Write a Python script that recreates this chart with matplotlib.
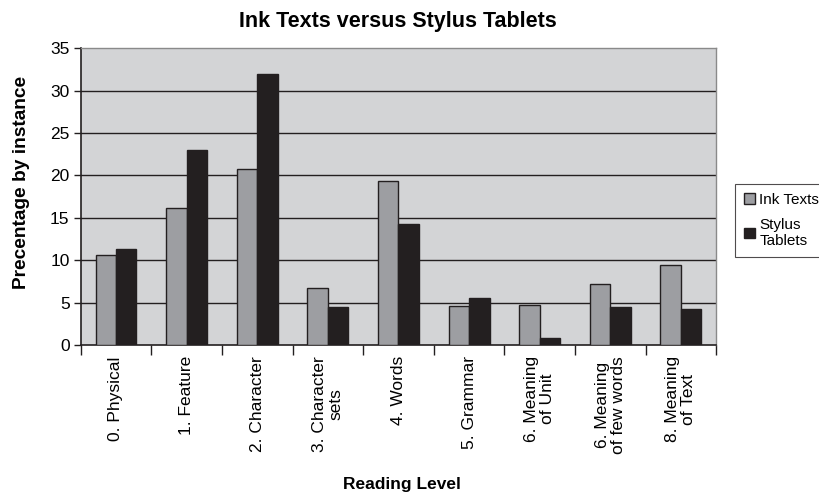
import matplotlib
matplotlib.use("Agg")
import matplotlib.pyplot as plt
import numpy as np

categories = ["0. Physical", "1. Feature", "2. Character", "3. Character\nsets",
              "4. Words", "5. Grammar", "6. Meaning\nof Unit",
              "6. Meaning\nof few words", "8. Meaning\nof Text"]
ink_texts = [10.6, 16.2, 20.8, 6.7, 19.4, 4.6, 4.7, 7.2, 9.4]
stylus_tablets = [11.3, 23.0, 32.0, 4.5, 14.3, 5.6, 0.9, 4.5, 4.3]
series_names = ["Ink Texts", "Stylus\nTablets"]
yticks = [0, 5, 10, 15, 20, 25, 30, 35]

plt.rcParams['font.family'] = ['Liberation Sans', 'DejaVu Sans']

fig = plt.figure(figsize=(8.2, 5.01), dpi=100)
ax = fig.add_axes([0.0984, 0.311, 0.775, 0.593])
ax.set_facecolor('#d3d4d6')

x = np.arange(len(categories))
w = 0.29
ax.bar(x - w/2, ink_texts, w, color='#9d9ea2', edgecolor='#231f20', linewidth=1.0,
       label=series_names[0], zorder=3)
ax.bar(x + w/2, stylus_tablets, w, color='#231f20', edgecolor='#231f20', linewidth=1.0,
       label=series_names[1], zorder=3)

ax.set_xlim(-0.5, len(categories) - 0.5)
ax.set_ylim(0, 35)
ax.set_yticks(yticks)
ax.tick_params(axis='y', labelsize=12.5, length=5, width=1, color='#231f20', pad=3)
for yv in yticks[1:-1]:
    ax.axhline(yv, color='#231f20', linewidth=1.0, zorder=1)

ax.set_xticks(np.arange(len(categories) + 1) - 0.5)
ax.set_xticklabels([])
ax.tick_params(axis='x', length=7, width=1, color='#231f20')
for i, lab in enumerate(categories):
    ax.text(i, -0.037, lab, transform=ax.get_xaxis_transform(), rotation=90,
            ha='center', va='top', fontsize=12.5, multialignment='center',
            linespacing=1.1)

for s in ['left', 'bottom']:
    ax.spines[s].set_color('#231f20')
    ax.spines[s].set_linewidth(1.2)
for s in ['top', 'right']:
    ax.spines[s].set_color('#8a8a8a')
    ax.spines[s].set_linewidth(1.0)

fig.text(0.485, 0.958, "Ink Texts versus Stylus Tablets", ha='center', va='center',
         fontsize=15.5, fontweight='bold')
fig.text(0.49, 0.032, "Reading Level", ha='center', va='center',
         fontsize=12.5, fontweight='bold')
fig.text(0.026, 0.635, "Precentage by instance", ha='center', va='center',
         rotation=90, fontsize=13.8, fontweight='bold')

leg = ax.legend(loc='center left', bbox_to_anchor=(0.896, 0.56), bbox_transform=fig.transFigure,
                frameon=True, fancybox=False, edgecolor='#231f20', fontsize=11,
                handlelength=0.7, handleheight=0.7, handletextpad=0.3,
                borderpad=0.6, labelspacing=0.7, borderaxespad=0)
leg.get_frame().set_linewidth(0.8)
for h in leg.legend_handles:
    h.set_edgecolor('#231f20')

fig.savefig("out.png", dpi=100)
